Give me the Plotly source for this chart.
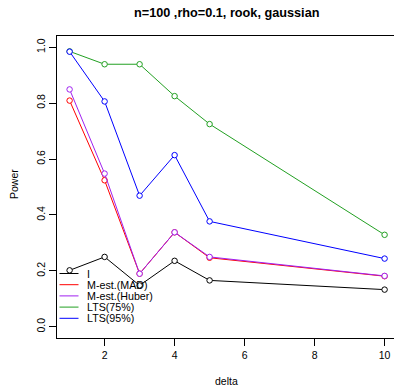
import plotly.graph_objects as go

delta = [1, 2, 3, 4, 5, 10]
power_I = [0.202, 0.250, 0.148, 0.236, 0.166, 0.133]
power_mad = [0.809, 0.524, 0.190, 0.338, 0.247, 0.181]
power_huber = [0.849, 0.548, 0.190, 0.338, 0.250, 0.182]
power_lts75 = [0.985, 0.939, 0.939, 0.825, 0.725, 0.329]
power_lts95 = [0.984, 0.806, 0.469, 0.614, 0.377, 0.244]

names = ["I", "M-est.(MAD)", "M-est.(Huber)", "LTS(75%)", "LTS(95%)"]
colors = ["#000000", "#FF0000", "#A020F0", "#22A022", "#0000FF"]
series = [power_I, power_mad, power_huber, power_lts75, power_lts95]

W, H = 394, 388
L, T, B, R = 57, 36, 50, 0
pw, ph = W - L - R, H - T - B

def px(x):
    return (x - L) / pw

def py(y):
    return (H - B - y) / ph

FONT = "Liberation Sans, Arial, sans-serif"

fig = go.Figure()
for name, col, vals in zip(names, colors, series):
    fig.add_trace(go.Scatter(
        x=delta, y=vals, mode="lines+markers", name=name,
        line=dict(color=col, width=1),
        marker=dict(symbol="circle", size=5.5, color="white",
                    line=dict(color=col, width=1)),
        showlegend=False, cliponaxis=True))

shapes = []
annotations = []
# manual R-style legend (bottom-left, no box)
for i, (name, col) in enumerate(zip(names, colors)):
    yy = 273.5 + i * 11.2
    shapes.append(dict(type="line", xref="paper", yref="paper",
                       x0=px(59.5), x1=px(78.5), y0=py(yy), y1=py(yy),
                       line=dict(color=col, width=1)))
    annotations.append(dict(text=name, xref="paper", yref="paper",
                            x=px(84.5), y=py(yy), xanchor="left", yanchor="middle",
                            showarrow=False,
                            font=dict(family=FONT, size=10.7, color="#000")))

annotations.append(dict(text="<b>n=100 ,rho=0.1, rook, gaussian</b>",
                        xref="paper", yref="paper", x=px(226), y=py(13),
                        xanchor="center", yanchor="middle", showarrow=False,
                        font=dict(family=FONT, size=12.7, color="#000")))
annotations.append(dict(text="delta", xref="paper", yref="paper",
                        x=px(226), y=py(381), xanchor="center", yanchor="middle",
                        showarrow=False, font=dict(family=FONT, size=10.5, color="#000")))
annotations.append(dict(text="Power", xref="paper", yref="paper",
                        x=px(14), y=py(184), xanchor="center", yanchor="middle",
                        textangle=-90, showarrow=False,
                        font=dict(family=FONT, size=10.5, color="#000")))

fig.update_layout(
    width=W, height=H,
    margin=dict(l=L, r=R, t=T, b=B, pad=0),
    paper_bgcolor="white", plot_bgcolor="white",
    shapes=shapes, annotations=annotations,
    xaxis=dict(range=[0.64, 0.64 + pw / 35.0], tickvals=[2, 4, 6, 8, 10],
               ticks="outside", ticklen=7, tickwidth=1, tickcolor="#000",
               showgrid=False, zeroline=False, showline=True, linecolor="#000",
               linewidth=1, mirror=True,
               tickfont=dict(family=FONT, size=10.5, color="#000")),
    yaxis=dict(range=[-0.04, 1.04], tickvals=[0, 0.2, 0.4, 0.6, 0.8, 1.0],
               ticktext=["0.0", "0.2", "0.4", "0.6", "0.8", "1.0"],
               tickangle=-90,
               ticks="outside", ticklen=7, tickwidth=1, tickcolor="#000",
               showgrid=False, zeroline=False, showline=True, linecolor="#000",
               linewidth=1, mirror=False,
               tickfont=dict(family=FONT, size=10.5, color="#000")),
    showlegend=False,
)

fig.write_html("out.html")
